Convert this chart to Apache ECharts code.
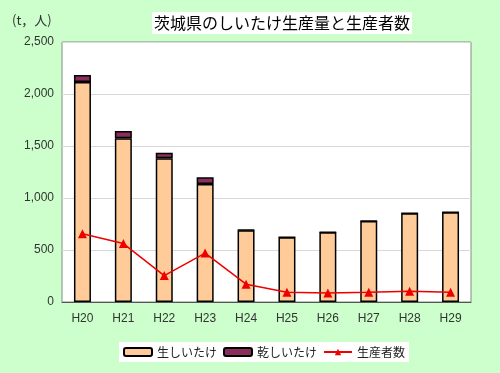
<!DOCTYPE html>
<html><head><meta charset="utf-8">
<script src="https://cdn.jsdelivr.net/npm/echarts@6/dist/echarts.min.js"></script>
<style>html,body{margin:0;padding:0;background:#ccffcc;}#c{width:500px;height:373px;}</style>
</head><body><div id="c"></div>
<script>
const categories = ['H20','H21','H22','H23','H24','H25','H26','H27','H28','H29'];
const freshShiitake = [2115, 1575, 1382, 1135, 690, 622, 670, 779, 853, 863];
const driedShiitake = [67, 70, 52, 64, 3, 2, 2, 2, 2, 2];
const producers = [656, 562, 254, 470, 171, 94, 87, 94, 103, 94];
const yTicks = [0, 500, 1000, 1500, 2000, 2500];

const font = '"Noto Sans CJK JP", "Noto Sans", sans-serif';
const chart = echarts.init(document.getElementById('c'));
chart.setOption({
  backgroundColor: '#ccffcc',
  animation: false,
  title: {
    text: '茨城県のしいたけ生産量と生産者数',
    left: 152, top: 12,
    backgroundColor: '#ffffff',
    padding: [3, 2, 3, 2],
    textStyle: { fontFamily: font, fontSize: 16, fontWeight: 'normal', color: '#000' }
  },
  graphic: [{
    type: 'text', left: 12, top: 14,
    style: { text: '(t，人)', font: '13px ' + font, fill: '#333' }
  }],
  legend: {
    left: 119, top: 342,
    backgroundColor: '#ffffff',
    padding: [4, 4, 4, 4],
    itemWidth: 28, itemHeight: 8, itemGap: 6,
    textStyle: { fontFamily: font, fontSize: 12, color: '#222' },
    data: [
      { name: '生しいたけ' },
      { name: '乾しいたけ' },
      { name: '生産者数' }
    ]
  },
  grid: { left: 62, right: 29, top: 42, bottom: 71, show: true, backgroundColor: '#ffffff', borderColor: '#7f8f7f', borderWidth: 1 },
  xAxis: {
    type: 'category', data: categories,
    axisLine: { lineStyle: { color: '#555', width: 1 } },
    axisTick: { show: false },
    axisLabel: { fontFamily: 'Liberation Sans, sans-serif', fontSize: 12, color: '#333', margin: 11 }
  },
  yAxis: {
    type: 'value', min: yTicks[0], max: yTicks[yTicks.length - 1], interval: 500,
    axisLine: { show: false },
    axisTick: { show: false },
    splitLine: { lineStyle: { color: '#d9d9d9' } },
    axisLabel: {
      fontFamily: 'Liberation Sans, sans-serif', fontSize: 12, color: '#333', margin: 8,
      formatter: v => v.toLocaleString('en-US')
    }
  },
  series: [
    {
      name: '生しいたけ', type: 'bar', stack: 'p', data: freshShiitake, barWidth: 17,
      itemStyle: { color: '#ffcc99', borderColor: '#000', borderWidth: 1.5 }
    },
    {
      name: '乾しいたけ', type: 'bar', stack: 'p', data: driedShiitake, barWidth: 17,
      itemStyle: { color: '#8b2f5a', borderColor: '#000', borderWidth: 1.5 }
    },
    {
      name: '生産者数', type: 'line', data: producers, z: 5,
      symbol: 'triangle', symbolSize: 9,
      lineStyle: { color: '#ee0000', width: 1.5 },
      itemStyle: { color: '#ee0000' }
    }
  ]
});
</script></body></html>
